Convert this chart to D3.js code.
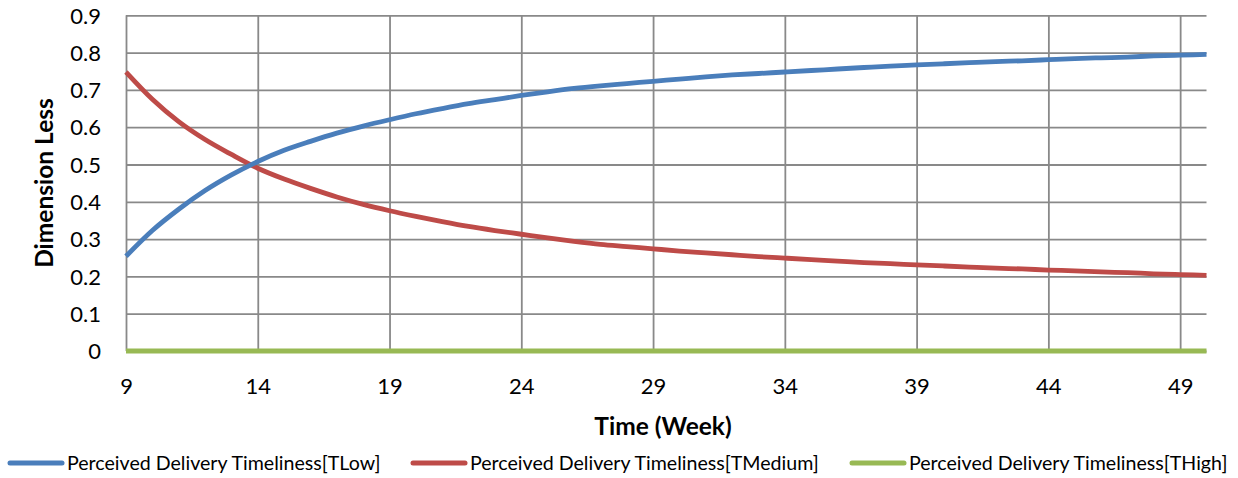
<!DOCTYPE html>
<html>
<head>
<meta charset="utf-8">
<script src="https://cdn.jsdelivr.net/npm/d3@7"></script>
<style>
  html, body { margin: 0; padding: 0; background: #fff; }
  svg { display: block; }
  text { font-family: Lato, "Open Sans", sans-serif; fill: #000; }
</style>
</head>
<body>
<svg id="chart" width="1238" height="478"></svg>
<script>
// Weeks simulated
const weeks = d3.range(9, 51);

// Perceived Delivery Timeliness[TLow]
const tLow = [
  0.254, 0.323, 0.380, 0.430, 0.472, 0.508, 0.538, 0.562, 0.584, 0.603,
  0.620, 0.636, 0.650, 0.663, 0.674, 0.685, 0.695, 0.704, 0.711, 0.717,
  0.723, 0.729, 0.735, 0.740, 0.744, 0.748, 0.752, 0.756, 0.760, 0.764,
  0.767, 0.770, 0.773, 0.776, 0.778, 0.781, 0.784, 0.786, 0.788, 0.791,
  0.793, 0.795
];

// Perceived Delivery Timeliness[TMedium]
const tMedium = [
  0.748, 0.675, 0.615, 0.567, 0.527, 0.490, 0.461, 0.436, 0.413, 0.393,
  0.376, 0.361, 0.347, 0.334, 0.323, 0.313, 0.303, 0.294, 0.286, 0.280,
  0.274, 0.268, 0.263, 0.258, 0.253, 0.249, 0.245, 0.241, 0.237, 0.234,
  0.231, 0.228, 0.225, 0.222, 0.220, 0.217, 0.215, 0.212, 0.210, 0.207,
  0.205, 0.203
];

// Perceived Delivery Timeliness[THigh]
const tHigh = [
  0, 0, 0, 0, 0, 0, 0, 0, 0, 0,
  0, 0, 0, 0, 0, 0, 0, 0, 0, 0,
  0, 0, 0, 0, 0, 0, 0, 0, 0, 0,
  0, 0, 0, 0, 0, 0, 0, 0, 0, 0,
  0, 0
];

const seriesNames = [
  "Perceived Delivery Timeliness[TLow]",
  "Perceived Delivery Timeliness[TMedium]",
  "Perceived Delivery Timeliness[THigh]"
];
const seriesColors = ["#4a7ebb", "#be4b48", "#98b954"];

const xTicks = [9, 14, 19, 24, 29, 34, 39, 44, 49];
const yTicks = [0, 0.1, 0.2, 0.3, 0.4, 0.5, 0.6, 0.7, 0.8, 0.9];

const series = [tLow, tMedium, tHigh].map((vals, i) => ({
  name: seriesNames[i],
  color: seriesColors[i],
  points: weeks.map((w, j) => ({ x: w, y: vals[j] }))
}));

const svg = d3.select("#chart");
const plot = { left: 126, right: 1206.5, top: 15.3, bottom: 351 };

const x = d3.scaleLinear().domain([9, 50]).range([plot.left, plot.right]);
const y = d3.scaleLinear().domain([0, 0.9]).range([plot.bottom, plot.top]);

const gridColor = "#898989";

// horizontal gridlines
svg.append("g")
  .attr("transform", `translate(${plot.left},0)`)
  .call(d3.axisLeft(y).tickValues(yTicks).tickSize(-(plot.right - plot.left)).tickFormat(""))
  .call(g => g.select(".domain").remove())
  .call(g => g.selectAll("line").attr("stroke", gridColor).attr("stroke-width", 1.8));

// vertical gridlines
svg.append("g")
  .attr("transform", `translate(0,${plot.bottom})`)
  .call(d3.axisBottom(x).tickValues(xTicks).tickSize(-(plot.bottom - plot.top)).tickFormat(""))
  .call(g => g.select(".domain").remove())
  .call(g => g.selectAll("line").attr("stroke", gridColor).attr("stroke-width", 1.8));

// y tick labels
svg.append("g")
  .attr("transform", `translate(101,0)`)
  .call(d3.axisLeft(y).tickValues(yTicks).tickSize(0).tickPadding(0).tickFormat(d => d === 0 ? "0" : d3.format(".1f")(d)))
  .call(g => g.select(".domain").remove())
  .call(g => g.selectAll("text")
    .attr("font-family", "Lato, 'Open Sans', sans-serif")
    .attr("font-size", 22).attr("fill", "#000").attr("dy", "0.35em").attr("x", 0));

// x tick labels
svg.append("g")
  .attr("transform", `translate(0,386)`)
  .call(d3.axisBottom(x).tickValues(xTicks).tickSize(0).tickPadding(0).tickFormat(d3.format("d")))
  .call(g => g.select(".domain").remove())
  .call(g => g.selectAll("text")
    .attr("font-family", "Lato, 'Open Sans', sans-serif")
    .attr("font-size", 22).attr("fill", "#000").attr("dy", "0.35em").attr("y", 0));

// axis titles
svg.append("text")
  .attr("x", 663).attr("y", 426).attr("dy", "0.35em")
  .attr("text-anchor", "middle")
  .attr("font-size", 24.5).attr("font-weight", "bold")
  .text("Time (Week)");

svg.append("text")
  .attr("transform", "translate(44,183) rotate(-90)")
  .attr("dy", "0.35em")
  .attr("text-anchor", "middle")
  .attr("font-size", 24.5).attr("font-weight", "bold")
  .text("Dimension Less");

// series lines
const line = d3.line().x(d => x(d.x)).y(d => y(d.y)).curve(d3.curveMonotoneX);

svg.append("g").selectAll("path")
  .data(series.slice().reverse())
  .join("path")
  .attr("d", d => line(d.points))
  .attr("fill", "none")
  .attr("stroke", d => d.color)
  .attr("stroke-width", 4.8);

// legend
const legendItems = [
  { x0: 10, x1: 62, tx: 67 },
  { x0: 413, x1: 465, tx: 470 },
  { x0: 852, x1: 904, tx: 909 }
];
const legend = svg.append("g").attr("transform", "translate(0,463)");
series.forEach((s, i) => {
  const it = legendItems[i];
  legend.append("line")
    .attr("x1", it.x0).attr("x2", it.x1)
    .attr("stroke", s.color).attr("stroke-width", 5).attr("stroke-linecap", "round");
  legend.append("text")
    .attr("x", it.tx).attr("dy", "0.35em")
    .attr("font-size", 19.6)
    .text(s.name);
});
</script>
</body>
</html>
